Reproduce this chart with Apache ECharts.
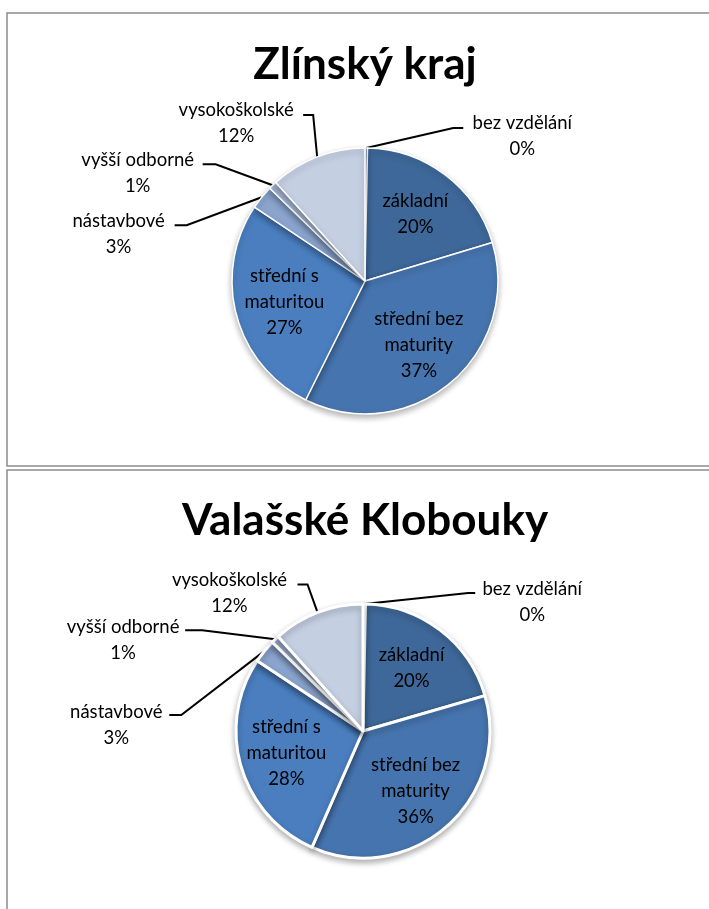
<!DOCTYPE html>
<html>
<head>
<meta charset="utf-8">
<script src="https://cdn.jsdelivr.net/npm/echarts@6/dist/echarts.min.js"></script>
<style>
  html, body { margin: 0; padding: 0; background: #fff; }
  #chart { width: 709px; height: 909px; }
</style>
</head>
<body>
<div id="chart"></div>
<script>
  // data
  var categories = ['bez vzdělání', 'základní', 'střední bez maturity', 'střední s maturitou', 'nástavbové', 'vyšší odborné', 'vysokoškolské'];
  var zlinskyKraj = [0.3, 20.0, 37.0, 27.0, 2.9, 1.0, 11.7];
  var valasskeKlobouky = [0.3, 20.1, 35.9, 27.6, 3.0, 1.0, 11.6];
  var titles = ['Zlínský kraj', 'Valašské Klobouky'];

  var colors = ['#2D5488', '#3E6899', '#4674AE', '#4A7EBF', '#8AA4CE', '#A9BCDB', '#C4CFE2'];
  var wrapped = {
    'střední bez maturity': 'střední bez\nmaturity',
    'střední s maturitou': 'střední s\nmaturitou'
  };

  var pieCenters = [[365, 281], [363, 731]];
  var pieRadius = [133, 127];

  // leader line shapes for the outside labels, relative to the slice edge point
  var labelGuides = [
    {
      'bez vzdělání': { elbow: [87, -20], end: [97, -20], text: [156, -12] },
      'vysokoškolské': { elbow: [-4, -42], end: [-14, -42], text: [-81, -34] },
      'vyšší odborné': { elbow: [-57, -21], end: [-70, -21], text: [-135, -12] },
      'nástavbové': { elbow: [-75, 28], end: [-87, 28], text: [-143, 37] }
    },
    {
      'bez vzdělání': { elbow: [104, -11], end: [111, -11], text: [168, -2] },
      'vysokoškolské': { elbow: [-10, -28], end: [-20, -28], text: [-88, -19] },
      'vyšší odborné': { elbow: [-73, -9], end: [-90, -9], text: [-152, 1] },
      'nástavbové': { elbow: [-83, 64], end: [-95, 64], text: [-148, 74] }
    }
  ];

  var myChart = echarts.init(document.getElementById('chart'));

  function buildData(values, idx) {
    return values.map(function (v, i) {
      var item = { name: categories[i], value: v, itemStyle: { color: colors[i] } };
      if (labelGuides[idx][categories[i]]) {
        item.label = { position: 'outside' };
        item.labelLine = { show: true };
      }
      return item;
    });
  }

  function makeLabelLayout(idx) {
    return function (params) {
      var guide = labelGuides[idx][categories[params.dataIndex]];
      var c = pieCenters[idx];
      if (guide) {
        // point on the rim at the middle of the slice
        var p = params.labelLinePoints ? params.labelLinePoints[0] : null;
        if (!p) {
          var vals = idx === 0 ? zlinskyKraj : valasskeKlobouky;
          var total = vals.reduce(function (a, b) { return a + b; }, 0);
          var before = 0;
          for (var k = 0; k < params.dataIndex; k++) before += vals[k];
          var ang = (before + vals[params.dataIndex] / 2) / total * Math.PI * 2;
          p = [c[0] + Math.sin(ang) * pieRadius[idx], c[1] - Math.cos(ang) * pieRadius[idx]];
        }
        return {
          x: p[0] + guide.text[0],
          y: p[1] + guide.text[1],
          align: 'center',
          verticalAlign: 'middle',
          labelLinePoints: [
            p,
            [p[0] + guide.elbow[0], p[1] + guide.elbow[1]],
            [p[0] + guide.end[0], p[1] + guide.end[1]]
          ]
        };
      }
      // inner labels sit a bit further out than the default half radius
      var r = params.labelRect;
      var lx = r.x + r.width / 2, ly = r.y + r.height / 2;
      return {
        x: c[0] + (lx - c[0]) * 1.2,
        y: c[1] + (ly - c[1]) * 1.2,
        align: 'center',
        verticalAlign: 'middle'
      };
    };
  }

  function buildSeries(values, idx) {
    return {
      type: 'pie',
      center: pieCenters[idx],
      radius: pieRadius[idx],
      startAngle: 90,
      clockwise: true,
      avoidLabelOverlap: false,
      minShowLabelAngle: 0,
      animation: false,
      data: buildData(values, idx),
      itemStyle: {
        borderColor: '#fff',
        borderWidth: idx === 0 ? 1.5 : 3,
        shadowBlur: 6,
        shadowOffsetY: 3,
        shadowColor: 'rgba(0,0,0,0.3)'
      },
      label: {
        show: true,
        position: 'inside',
        fontFamily: 'Lato',
        fontSize: 18.5,
        lineHeight: 26,
        color: '#000',
        align: 'center',
        formatter: function (p) {
          return (wrapped[p.name] || p.name) + '\n' + Math.round(p.percent) + '%';
        }
      },
      labelLine: {
        show: true,
        length: 15,
        length2: 10,
        lineStyle: { color: '#000', width: 2 }
      },
      labelLayout: makeLabelLayout(idx),
      emphasis: { disabled: true }
    };
  }

  var option = {
    textStyle: { fontFamily: 'Lato' },
    title: titles.map(function (t, i) {
      return {
        text: t,
        left: 360,
        top: i === 0 ? 38 : 494,
        textAlign: 'center',
        textStyle: { fontFamily: 'Lato', fontWeight: 'bold', fontSize: 44, color: '#000' }
      };
    }),
    graphic: [
      { type: 'rect', shape: { x: 7, y: 13, width: 720, height: 453 }, style: { fill: 'none', stroke: '#8c8c8c', lineWidth: 1.5 }, silent: true },
      { type: 'rect', shape: { x: 7, y: 470, width: 720, height: 460 }, style: { fill: 'none', stroke: '#8c8c8c', lineWidth: 1.5 }, silent: true }
    ],
    series: [buildSeries(zlinskyKraj, 0), buildSeries(valasskeKlobouky, 1)]
  };
  myChart.setOption(option);
</script>
</body>
</html>
